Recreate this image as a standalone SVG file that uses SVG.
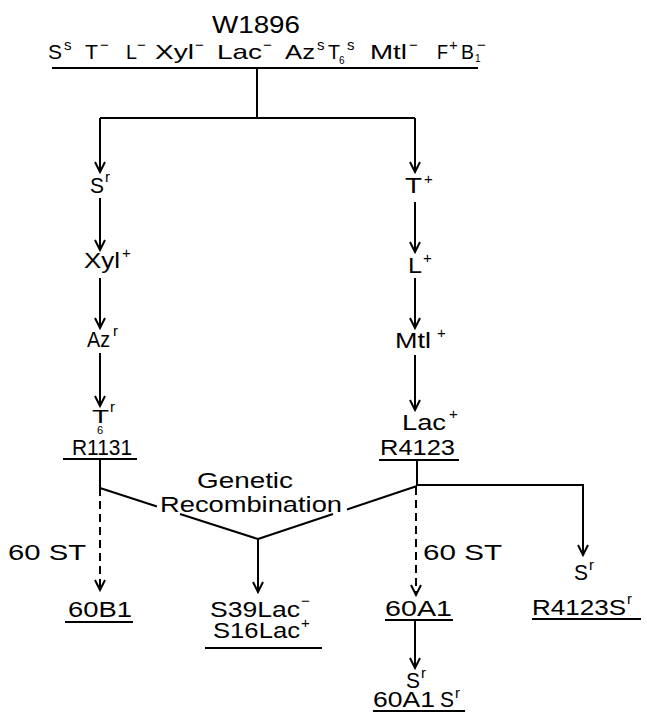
<svg xmlns="http://www.w3.org/2000/svg" width="647" height="712" viewBox="0 0 647 712">
<style>
text{font-family:"Liberation Sans",Arial,sans-serif;fill:#000}
.t{font-size:22px}
.h{font-size:21px}
.s{font-size:15px}
.l{stroke:#000;stroke-width:2;fill:none}
.d{stroke:#000;stroke-width:2;fill:none;stroke-dasharray:8 5}
.a{marker-end:url(#ah)}
</style>
<defs>
<marker id="ah" viewBox="-12 -7 14 14" markerWidth="14" markerHeight="14" refX="0" refY="0" orient="auto" markerUnits="userSpaceOnUse">
<path d="M-10,-5 L0,0 L-10,5" fill="none" stroke="#000" stroke-width="2"/>
</marker>
</defs>
<rect width="647" height="712" fill="#fff"/>

<g id="W1896">
<text x="212" y="33" textLength="88" lengthAdjust="spacingAndGlyphs" style="font-size:24px">W1896</text>
<text class="h" x="48" y="59" textLength="14" lengthAdjust="spacingAndGlyphs">S</text><text class="s" x="64" y="50">s</text>
<text class="h" x="85" y="59" textLength="13" lengthAdjust="spacingAndGlyphs">T</text><text class="s" x="100" y="50">−</text>
<text class="h" x="126" y="59" textLength="11" lengthAdjust="spacingAndGlyphs">L</text><text class="s" x="137" y="50">−</text>
<text class="h" x="155" y="59" textLength="39" lengthAdjust="spacingAndGlyphs">Xyl</text><text class="s" x="195" y="50">−</text>
<text class="h" x="217" y="59" textLength="45" lengthAdjust="spacingAndGlyphs">Lac</text><text class="s" x="263" y="50">−</text>
<text class="h" x="285" y="59" textLength="30" lengthAdjust="spacingAndGlyphs">Az</text><text class="s" x="317" y="50">s</text>
<text class="h" x="328" y="59" textLength="12" lengthAdjust="spacingAndGlyphs">T</text><text x="339" y="64" style="font-size:10px">6</text><text class="s" x="347" y="50">s</text>
<text class="h" x="370" y="59" textLength="37" lengthAdjust="spacingAndGlyphs">Mtl</text><text class="s" x="409" y="50">−</text>
<text class="h" x="437" y="59" textLength="11" lengthAdjust="spacingAndGlyphs">F</text><text class="s" x="449" y="50">+</text>
<text class="h" x="461" y="59" textLength="13" lengthAdjust="spacingAndGlyphs">B</text><text x="475" y="62" style="font-size:10px">1</text><text class="s" x="477" y="50">−</text>
<line class="l" x1="52" y1="68" x2="478" y2="68"/>
</g>

<g id="Sr1"><text class="t" x="90" y="193" textLength="14" lengthAdjust="spacingAndGlyphs">S</text><text class="s" x="105" y="182">r</text></g>
<g id="Xyl"><text class="t" x="84" y="268" textLength="36" lengthAdjust="spacingAndGlyphs">Xyl</text><text class="s" x="122" y="258">+</text></g>
<g id="Azr"><text class="t" x="87" y="347" textLength="23" lengthAdjust="spacingAndGlyphs">Az</text><text class="s" x="113" y="336">r</text></g>
<g id="T6r"><text x="92" y="423" textLength="17" lengthAdjust="spacingAndGlyphs" style="font-size:18px">T</text><text x="97" y="434" style="font-size:11px">6</text><text class="s" x="110" y="412">r</text></g>
<g id="R1131"><text class="t" x="72" y="455" textLength="60" lengthAdjust="spacingAndGlyphs">R1131</text><line class="l" x1="63" y1="459" x2="137" y2="459"/></g>

<g id="Tplus"><text class="t" x="405" y="193" textLength="17" lengthAdjust="spacingAndGlyphs">T</text><text class="s" x="424" y="184">+</text></g>
<g id="Lplus"><text class="t" x="408" y="273" textLength="14" lengthAdjust="spacingAndGlyphs">L</text><text class="s" x="423" y="263">+</text></g>
<g id="Mtl"><text class="t" x="395" y="348" textLength="36" lengthAdjust="spacingAndGlyphs">Mtl</text><text class="s" x="437" y="338">+</text></g>
<g id="Lac"><text class="t" x="402" y="430" textLength="44" lengthAdjust="spacingAndGlyphs">Lac</text><text class="s" x="449" y="419">+</text></g>
<g id="R4123"><text class="t" x="380" y="455" textLength="75" lengthAdjust="spacingAndGlyphs">R4123</text><line class="l" x1="379" y1="460" x2="459" y2="460"/></g>

<g id="recomb">
<text class="t" x="197" y="488" textLength="96" lengthAdjust="spacingAndGlyphs">Genetic</text>
<text class="t" x="160" y="512" textLength="182" lengthAdjust="spacingAndGlyphs">Recombination</text>
</g>

<g id="label60L"><text class="t" x="8" y="560" textLength="78" lengthAdjust="spacingAndGlyphs">60 ST</text></g>
<g id="n60B1"><text class="t" x="68" y="617" textLength="64" lengthAdjust="spacingAndGlyphs">60B1</text><line class="l" x1="65" y1="622" x2="133" y2="622"/></g>

<g id="S39"><text class="t" x="210" y="617" textLength="90" lengthAdjust="spacingAndGlyphs">S39Lac</text><text class="s" x="301" y="606">−</text>
<text class="t" x="213" y="638" textLength="87" lengthAdjust="spacingAndGlyphs">S16Lac</text><text class="s" x="301" y="628">+</text>
<line class="l" x1="205" y1="648" x2="322" y2="648"/></g>

<g id="label60R"><text class="t" x="423" y="560" textLength="79" lengthAdjust="spacingAndGlyphs">60 ST</text></g>
<g id="n60A1"><text class="t" x="385" y="616" textLength="67" lengthAdjust="spacingAndGlyphs">60A1</text><line class="l" x1="385" y1="620" x2="453" y2="620"/></g>
<g id="Sr3"><text class="t" x="406" y="688" textLength="14" lengthAdjust="spacingAndGlyphs">S</text><text class="s" x="421" y="678">r</text></g>
<g id="n60A1Sr"><text class="t" x="373" y="707" textLength="62" lengthAdjust="spacingAndGlyphs">60A1</text><text class="t" x="440" y="707" textLength="14" lengthAdjust="spacingAndGlyphs">S</text><text class="s" x="455" y="698">r</text><line class="l" x1="373" y1="711" x2="465" y2="711"/></g>

<g id="Sr2"><text class="t" x="574" y="580" textLength="14" lengthAdjust="spacingAndGlyphs">S</text><text class="s" x="589" y="570">r</text></g>
<g id="R4123Sr"><text class="t" x="532" y="615" textLength="94" lengthAdjust="spacingAndGlyphs">R4123S</text><text class="s" x="627" y="604">r</text><line class="l" x1="532" y1="619" x2="641" y2="619"/></g>

<g id="connectors">
<line class="l" x1="257" y1="68" x2="257" y2="118"/>
<line class="l" x1="100" y1="118" x2="415" y2="118"/>
<line class="l a" x1="100" y1="118" x2="100" y2="172"/>
<line class="l a" x1="415" y1="118" x2="415" y2="172"/>
<line class="l a" x1="100" y1="198" x2="100" y2="250"/>
<line class="l a" x1="100" y1="278" x2="100" y2="328"/>
<line class="l a" x1="100" y1="353" x2="100" y2="406"/>
<line class="l a" x1="415" y1="202" x2="415" y2="252"/>
<line class="l a" x1="415" y1="278" x2="415" y2="328"/>
<line class="l a" x1="415" y1="355" x2="415" y2="410"/>
<line class="l" x1="100" y1="459" x2="100" y2="488"/>
<line class="l" x1="100" y1="488" x2="157" y2="506.5"/>
<line class="l" x1="180" y1="514" x2="258" y2="539"/>
<line class="l" x1="258" y1="539" x2="333" y2="514"/>
<line class="l" x1="347" y1="509.5" x2="417" y2="486"/>
<line class="l" x1="417" y1="460" x2="417" y2="486"/>
<line class="l a" x1="258" y1="539" x2="258" y2="592"/>
<line class="d a" x1="100" y1="488" x2="100" y2="590"/>
<line class="d a" x1="416" y1="487" x2="416" y2="595"/>
<polyline class="l a" points="417,485 583,485 583,555"/>
<line class="l a" x1="415" y1="620" x2="415" y2="668"/>
</g>
</svg>
